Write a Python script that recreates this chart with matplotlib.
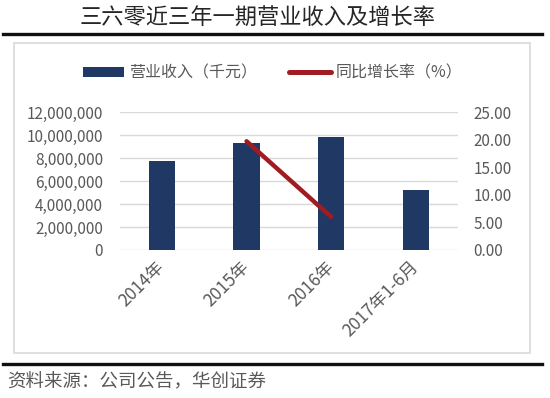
import numpy as np
from matplotlib import pyplot as plt
from matplotlib.patches import Patch, Rectangle
from matplotlib.lines import Line2D
from matplotlib.ticker import FuncFormatter, FormatStrFormatter

plt.rcParams['font.family'] = ['Noto Sans CJK SC', 'DejaVu Sans']

# data
periods = ['2014年', '2015年', '2016年', '2017年1-6月']
revenue = [7750000, 9300000, 9800000, 5200000]      # 营业收入（千元）
growth = [np.nan, 19.7, 6.0, np.nan]                 # 同比增长率（%）

title = '三六零近三年一期营业收入及增长率'
source = '资料来源：公司公告，华创证券'

BAR = '#1f3864'
LINE = '#a01c22'
GREY = '#595959'
GRID = '#d9d9d9'

W, H = 550, 398
fig = plt.figure(figsize=(W / 100, H / 100), dpi=100)

# frame around the chart and the two black rules
fig.patches.append(Rectangle((14 / W, 1 - 353 / H), 516 / W, 310 / H,
                             transform=fig.transFigure, fill=False,
                             edgecolor=GRID, lw=1.2))
for yy in (33.5, 364):
    fig.add_artist(Line2D([3 / W, 542 / W], [1 - yy / H, 1 - yy / H],
                          transform=fig.transFigure, color='#111111', lw=2.4))

fig.text(257.5 / W, 1 - 18 / H, title, ha='center', va='center',
         fontsize=16, color='#262626')
fig.text(7 / W, 1 - 382 / H, source, ha='left', va='center',
         fontsize=13.3, color=GREY)

ax = fig.add_axes([119.7 / W, 1 - 250 / H, 338.3 / W, 138 / H])
x = np.arange(len(periods))
ax.bar(x, revenue, width=0.31, color=BAR, zorder=3)
ax.set_xlim(-0.5, len(periods) - 0.5)
ax.set_ylim(0, 12000000)
ax.set_yticks(np.arange(0, 12000001, 2000000))
ax.yaxis.set_major_formatter(FuncFormatter(lambda v, p: f'{int(v):,}'))
ax.grid(axis='y', color=GRID, lw=1, zorder=0)
ax.set_axisbelow(True)
ax.set_xticks(x)
ax.set_xticklabels(periods, rotation=45, ha='right', va='center',
                   rotation_mode='anchor')
ax.tick_params(axis='both', length=0, colors=GREY)
ax.tick_params(axis='y', pad=12, labelsize=11)
ax.tick_params(axis='x', pad=10, labelsize=12.5)
for s in ax.spines.values():
    s.set_visible(False)

ax2 = ax.twinx()
ax2.plot(x, growth, color=LINE, lw=3.2, solid_capstyle='round')
ax2.set_ylim(0, 25)
ax2.set_yticks(np.arange(0, 26, 5))
ax2.yaxis.set_major_formatter(FormatStrFormatter('%.2f'))
ax2.tick_params(axis='y', length=0, colors=GREY, labelsize=11, pad=11)
for s in ax2.spines.values():
    s.set_visible(False)

handles = [Patch(facecolor=BAR, edgecolor='none'),
           Line2D([0], [0], color=LINE, lw=3.6, solid_capstyle='round')]
labels = ['营业收入（千元）', '同比增长率（%）']
fig.legend(handles, labels, loc='center', bbox_to_anchor=(272.5 / W, 1 - 73 / H),
           ncol=2, frameon=False, fontsize=11.5, labelcolor=GREY,
           handlelength=2.6, handleheight=0.6, handletextpad=0.3,
           columnspacing=2.0)

fig.savefig('out.png', dpi=100)
